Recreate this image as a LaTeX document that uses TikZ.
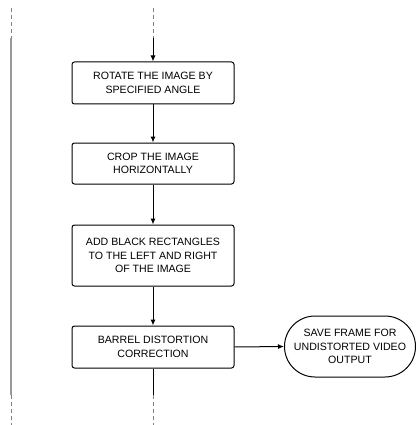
\documentclass[tikz,border=0pt]{standalone}
\usepackage{fontspec}
\setmainfont{Liberation Sans}
\usetikzlibrary{shapes.misc,arrows.meta}
\begin{document}
\begin{tikzpicture}[x=1pt,y=-1pt,
  stepbox/.style={draw=black,line width=1pt,rounded corners=2.5pt,minimum width=162pt,align=center,font=\fontsize{10.6}{13.6}\selectfont,inner sep=0pt},
  term/.style={draw=black,line width=1pt,rounded rectangle,minimum width=131pt,minimum height=61pt,align=center,font=\fontsize{10.6}{13.6}\selectfont,inner sep=0pt},
  conn/.style={line width=1pt,-{Latex[length=6pt,width=5pt]}},
  solidl/.style={line width=1pt},
  dashl/.style={draw=gray,line width=0.9pt,dash pattern=on 4pt off 3pt},
  lane/.style={draw=gray!80,line width=1.1pt}]
\useasboundingbox (0,0) rectangle (415,425);
\node[stepbox,minimum height=42pt] (b1) at (153,83) {ROTATE THE IMAGE BY\\SPECIFIED ANGLE};
\node[stepbox,minimum height=41pt] (b2) at (153,163.5) {CROP THE IMAGE\\HORIZONTALLY};
\node[stepbox,minimum height=61pt] (b3) at (153,255.5) {ADD BLACK RECTANGLES\\TO THE LEFT AND RIGHT\\OF THE IMAGE};
\node[stepbox,minimum height=42pt] (b4) at (153,347) {BARREL DISTORTION\\CORRECTION};
\node[term] (t) at (350,346.5) {SAVE FRAME FOR\\UNDISTORTED VIDEO\\OUTPUT};
\coordinate (top) at (153,8);
\coordinate (topj) at (153,38);
\coordinate (botj) at (153,395);
\coordinate (bot) at (153,425);
\coordinate (ltop) at (11,8);
\coordinate (ltopj) at (11,38);
\coordinate (lbotj) at (11,395);
\coordinate (lbot) at (11,425);
\draw[dashl] (top) -- (topj);
\draw[conn] (topj) -- (b1.north);
\draw[conn] (b1.south) -- (b2.north);
\draw[conn] (b2.south) -- (b3.north);
\draw[conn] (b3.south) -- (b4.north);
\draw[conn] (b4.east) -- (t.west);
\draw[solidl] (b4.south) -- (botj);
\draw[dashl] (botj) -- (bot);
\draw[dashl] (ltop) -- (ltopj);
\draw[lane] (ltopj) -- (lbotj);
\draw[dashl] (lbotj) -- (lbot);
\end{tikzpicture}
\end{document}
